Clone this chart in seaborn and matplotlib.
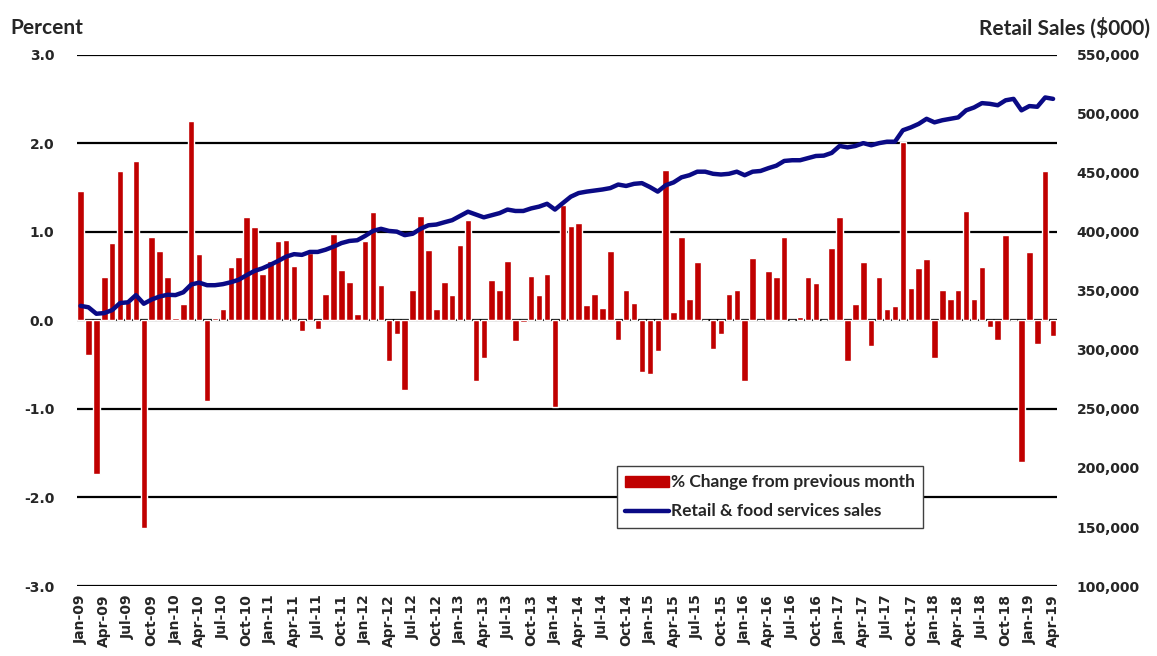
import numpy as np
import pandas as pd
import seaborn as sns
import matplotlib.pyplot as plt
import matplotlib.patches as mpatches
from matplotlib.lines import Line2D
from matplotlib.ticker import FuncFormatter

# monthly categories Jan-09 .. Apr-19
months = pd.date_range('2009-01-01', periods=124, freq='MS').strftime('%b-%y').tolist()

# % change from previous month (left axis)
pct_change = [
    1.46, -0.39, -1.73, 0.49, 0.88, 1.69, 0.21, 1.80, -2.34, 0.94, 0.79, 0.49,
    0.03, 0.19, 2.25, 0.75, -0.91, 0.03, 0.13, 0.60, 0.72, 1.17, 1.06, 0.52,
    0.67, 0.90, 0.91, 0.62, -0.12, 0.76, -0.10, 0.30, 0.98, 0.57, 0.43, 0.07,
    0.90, 1.23, 0.40, -0.46, -0.15, -0.79, 0.34, 1.18, 0.80, 0.13, 0.43, 0.29,
    0.85, 1.14, -0.68, -0.42, 0.46, 0.35, 0.67, -0.23, -0.02, 0.50, 0.29, 0.53,
    -0.98, 1.30, 1.07, 1.10, 0.17, 0.30, 0.14, 0.79, -0.22, 0.34, 0.20, -0.58,
    -0.61, -0.34, 1.70, 0.10, 0.94, 0.24, 0.66, 0.00, -0.32, -0.15, 0.30, 0.35,
    -0.68, 0.71, 0.00, 0.56, 0.49, 0.94, 0.00, 0.04, 0.49, 0.42, 0.00, 0.82,
    1.17, -0.46, 0.19, 0.66, -0.29, 0.49, 0.13, 0.16, 2.02, 0.37, 0.59, 0.69,
    -0.42, 0.35, 0.24, 0.34, 1.24, 0.24, 0.60, -0.07, -0.22, 0.97, 0.00, -1.60,
    0.77, -0.27, 1.69, -0.18,
]

# retail & food services sales, $000 (right axis)
retail_sales = [
    337400, 336200, 330700, 331300, 333800, 339800, 340400, 346500, 339200, 342800, 345300, 346800,
    346500, 348900, 355500, 357100, 354900, 354900, 355800, 357400, 359500, 363400, 367000, 369200,
    372200, 375500, 379100, 381200, 380600, 383100, 383100, 385000, 387600, 390600, 392400, 393000,
    396700, 400900, 402700, 400900, 400300, 397300, 398500, 402700, 405700, 406300, 408200, 410000,
    413600, 417200, 414800, 412400, 414200, 416000, 419000, 417800, 417800, 420000, 421500, 423900,
    419000, 424500, 429900, 433000, 434200, 435100, 436000, 437200, 440200, 439000, 440800, 441400,
    438100, 434200, 439600, 442000, 446300, 448100, 451100, 451100, 449300, 448700, 449300, 451100,
    448100, 451100, 451700, 454100, 456200, 460200, 460800, 460800, 462600, 464400, 464700, 467000,
    472900, 471700, 472900, 475300, 473500, 475300, 476500, 476500, 486200, 488600, 491600, 495900,
    492900, 494700, 495900, 497100, 503100, 505500, 509200, 508600, 507400, 511600, 512800, 503100,
    506700, 506100, 514000, 512800,
]

left_ticks = [-3.0, -2.0, -1.0, 0.0, 1.0, 2.0, 3.0]
right_ticks = [100000, 150000, 200000, 250000, 300000, 350000, 400000, 450000, 500000, 550000]

bar_color = '#C00000'
line_color = '#0A0A85'

df = pd.DataFrame({'month': months, 'pct': pct_change, 'sales': retail_sales})
df['pos'] = np.arange(len(df))

sns.set_style('white')
plt.rcParams['font.family'] = ['DejaVu Sans']

fig = plt.figure(figsize=(11.57, 6.56), dpi=100)
ax = fig.add_axes([0.0662, 0.1067, 0.8474, 0.8095])

sns.barplot(data=df, x='month', y='pct', color=bar_color, saturation=1,
            width=0.82, ax=ax)
ax.set_axisbelow(True)
ax.set_ylim(-3, 3)
ax.set_yticks(left_ticks)
ax.yaxis.set_major_formatter(FuncFormatter(lambda v, p: f'{v:.1f}'))
ax.grid(axis='y', color='black', linewidth=1.6)
ax.grid(axis='x', visible=False)
ax.set_xlabel('')
ax.set_ylabel('')
ax.set_xticks(range(0, len(months), 3))
ax.set_xticklabels(months[::3], rotation=90, fontsize=10, fontweight='bold')
ax.tick_params(axis='x', length=0, pad=6)
ax.tick_params(axis='y', length=0, pad=16, labelsize=10)
for lab in ax.get_yticklabels():
    lab.set_fontweight('bold')
for s in ax.spines.values():
    s.set_visible(False)

ax2 = ax.twinx()
sns.lineplot(data=df, x='pos', y='sales', color=line_color, linewidth=3.2, ax=ax2)
ax2.set_ylim(100000, 550000)
ax2.set_yticks(right_ticks)
ax2.yaxis.set_major_formatter(FuncFormatter(lambda v, p: f'{int(v):,}'))
ax2.tick_params(axis='y', length=0, pad=14, labelsize=10)
for lab in ax2.get_yticklabels():
    lab.set_fontweight('bold')
ax2.set_xlabel('')
ax2.set_ylabel('')
ax2.grid(False)
for s in ax2.spines.values():
    s.set_visible(False)
ax.set_xlim(-0.5, len(months) - 0.5)

handles = [mpatches.Patch(color=bar_color), Line2D([0], [0], color=line_color, linewidth=3.2)]
labels = ['% Change from previous month', 'Retail & food services sales']
leg = ax2.legend(handles, labels, loc='lower left', bbox_to_anchor=(0.551, 0.109),
                 frameon=True, fancybox=False, framealpha=1, edgecolor='#404040',
                 handlelength=2.5, handleheight=0.6, handletextpad=0.1, borderpad=0.5,
                 labelspacing=0.75, borderaxespad=0,
                 prop={'family': 'Lato', 'weight': 'bold', 'size': 12.5})
leg.get_frame().set_linewidth(1.0)

fig.text(10 / 1157, 1 - 28 / 656, 'Percent', ha='left', va='center',
         fontsize=15, fontweight='bold', family='Lato')
fig.text(1150 / 1157, 1 - 28 / 656, 'Retail Sales ($000)', ha='right', va='center',
         fontsize=15, fontweight='bold', family='Lato')

fig.savefig('out.png', dpi=100)
